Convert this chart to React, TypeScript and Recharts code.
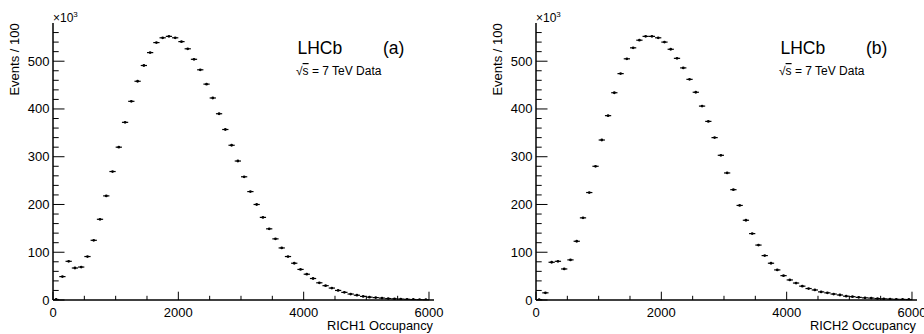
import React from "react";
import { ScatterChart, Scatter, XAxis, YAxis, ErrorBar } from "recharts";

// bin centres of the 100-wide occupancy bins
const binCenters = [
  50, 150, 250, 350, 450, 550, 650, 750, 850, 950,
  1050, 1150, 1250, 1350, 1450, 1550, 1650, 1750, 1850, 1950,
  2050, 2150, 2250, 2350, 2450, 2550, 2650, 2750, 2850, 2950,
  3050, 3150, 3250, 3350, 3450, 3550, 3650, 3750, 3850, 3950,
  4050, 4150, 4250, 4350, 4450, 4550, 4650, 4750, 4850, 4950,
  5050, 5150, 5250, 5350, 5450, 5550, 5650, 5750, 5850, 5950,
];

// events / 100, in units of 10^3
const rich1Events = [
  1, 49, 81, 67, 69, 91, 125, 169, 218, 269,
  320, 372, 416, 458, 491, 518, 539, 549, 552, 549,
  541, 526, 504, 482, 452, 423, 390, 357, 324, 291,
  258, 227, 200, 173, 149, 128, 109, 91, 77, 64,
  54, 45, 36, 30, 25, 20, 16, 12.5, 10, 7.5,
  6, 5, 4, 3, 2.5, 2, 1.5, 1, 0.8, 0.5,
];

const rich2Events = [
  0.5, 15, 79, 81, 65, 84, 123, 172, 225, 280,
  335, 386, 434, 474, 505, 528, 544, 552, 552, 549,
  540, 525, 506, 486, 462, 435, 406, 374, 340, 303,
  266, 231, 198, 167, 139, 115, 93, 77, 63, 51,
  42, 35.5, 29, 24, 21, 17, 15, 12.5, 10.5, 8,
  7, 5.5, 4.5, 4, 3, 2.5, 2, 1.5, 1.3, 1,
];

const xTicks = [0, 500, 1000, 1500, 2000, 2500, 3000, 3500, 4000, 4500, 5000, 5500, 6000];
const xMajor = [0, 2000, 4000, 6000];
const yTicks = [
  0, 20, 40, 60, 80, 100, 120, 140, 160, 180, 200, 220, 240, 260, 280,
  300, 320, 340, 360, 380, 400, 420, 440, 460, 480, 500, 520, 540, 560,
];
const yMajor = [0, 100, 200, 300, 400, 500];

const font = "'Liberation Sans', Arial, Helvetica, sans-serif";

function BottomTick({ x, y, payload }: any) {
  const major = xMajor.includes(payload.value);
  return (
    <g>
      <line x1={x} x2={x} y1={y} y2={y - (major ? 8.3 : 4.2)} stroke="#000" />
      {major && (
        <text x={x} y={y + 17} textAnchor="middle" fontSize={13} fill="#000" fontFamily={font}>
          {payload.value}
        </text>
      )}
    </g>
  );
}

function TopTick({ x, y, payload }: any) {
  const major = xMajor.includes(payload.value);
  return <line x1={x} x2={x} y1={y} y2={y + (major ? 8.3 : 4.2)} stroke="#000" />;
}

function LeftTick({ x, y, payload }: any) {
  const major = yMajor.includes(payload.value);
  return (
    <g>
      <line x1={x} x2={x + (major ? 11.5 : 5.7)} y1={y} y2={y} stroke="#000" />
      {major && (
        <text x={x - 3.5} y={y + 4.5} textAnchor="end" fontSize={13} fill="#000" fontFamily={font}>
          {payload.value}
        </text>
      )}
    </g>
  );
}

function RightTick({ x, y, payload }: any) {
  const major = yMajor.includes(payload.value);
  return <line x1={x} x2={x - (major ? 11.5 : 5.7)} y1={y} y2={y} stroke="#000" />;
}

const dot = (p: any) => <circle cx={p.cx} cy={p.cy} r={1.4} fill="#000" />;

function Panel({ values, tag, xTitle, left, width }: any) {
  const data = binCenters.map((x, i) => ({ x, y: values[i], xerr: 50 }));
  return (
    <div style={{ position: "absolute", left, top: 0, width, height: 334 }}>
      <ScatterChart width={width} height={334} margin={{ top: 23, right: width - 434, bottom: 0, left: 0 }}>
        <XAxis
          xAxisId="b"
          dataKey="x"
          type="number"
          domain={[0, 6080]}
          ticks={xTicks}
          interval={0}
          allowDataOverflow
          height={34}
          tickSize={0}
          tickMargin={0}
          tickLine={false}
          axisLine={{ stroke: "#000", strokeWidth: 1.5 }}
          tick={<BottomTick />}
        />
        <XAxis
          xAxisId="t"
          orientation="top"
          dataKey="x"
          type="number"
          domain={[0, 6080]}
          ticks={xTicks}
          interval={0}
          allowDataOverflow
          height={0}
          tickSize={0}
          tickMargin={0}
          tickLine={false}
          axisLine={{ stroke: "#000", strokeWidth: 1.5 }}
          tick={<TopTick />}
        />
        <YAxis
          yAxisId="l"
          dataKey="y"
          type="number"
          domain={[0, 580]}
          ticks={yTicks}
          interval={0}
          allowDataOverflow
          width={53}
          tickSize={0}
          tickMargin={0}
          tickLine={false}
          axisLine={{ stroke: "#000", strokeWidth: 1.5 }}
          tick={<LeftTick />}
        />
        <YAxis
          yAxisId="r"
          orientation="right"
          dataKey="y"
          type="number"
          domain={[0, 580]}
          ticks={yTicks}
          interval={0}
          allowDataOverflow
          width={0}
          tickSize={0}
          tickMargin={0}
          tickLine={false}
          axisLine={{ stroke: "#000", strokeWidth: 1.5 }}
          tick={<RightTick />}
        />
        <Scatter data={data} xAxisId="b" yAxisId="l" shape={dot} isAnimationActive={false}>
          <ErrorBar dataKey="xerr" direction="x" width={0} stroke="#000" strokeWidth={1.2} isAnimationActive={false} />
        </Scatter>
        <Scatter data={data} xAxisId="t" yAxisId="r" shape={() => <g />} isAnimationActive={false} />
      </ScatterChart>
      <svg
        width={width}
        height={334}
        style={{ position: "absolute", left: 0, top: 0, pointerEvents: "none", overflow: "visible" }}
        fontFamily={font}
      >
        <text x={19} y={23.3} transform="rotate(-90, 19, 23.3)" textAnchor="end" fontSize={13} fill="#000">
          Events / 100
        </text>
        <text x={53} y={22} fontSize={12} fill="#000">
          ×10<tspan dy={-5} fontSize={8}>3</tspan>
        </text>
        <text x={297.5} y={54} fontSize={17.5} fill="#000">LHCb</text>
        <text x={383} y={54} fontSize={17.5} fill="#000">{tag}</text>
        <text x={296} y={75} fontSize={12} fill="#000">
          √<tspan style={{ textDecoration: "overline" }}>s</tspan> = 7 TeV Data
        </text>
        <text x={433} y={330} textAnchor="end" fontSize={12.8} fill="#000">{xTitle}</text>
      </svg>
    </div>
  );
}

export default function App() {
  return (
    <div style={{ position: "absolute", left: 0, top: 0, width: 924, height: 334, overflow: "hidden", background: "#fff" }}>
      <Panel values={rich1Events} tag="(a)" xTitle="RICH1 Occupancy" left={0} width={462} />
      <Panel values={rich2Events} tag="(b)" xTitle="RICH2 Occupancy" left={483.3} width={441} />
    </div>
  );
}
